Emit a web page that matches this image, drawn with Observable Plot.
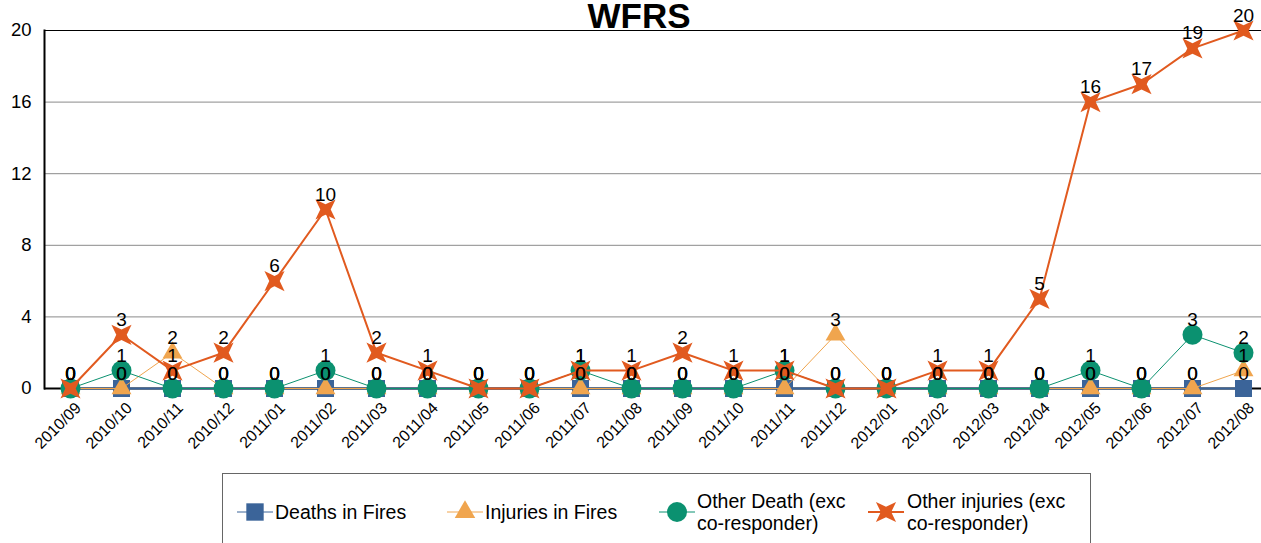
<!DOCTYPE html>
<html>
<head>
<meta charset="utf-8">
<script src="https://cdn.jsdelivr.net/npm/d3@7"></script>
<script src="https://cdn.jsdelivr.net/npm/@observablehq/plot@0.6"></script>
<style>
  body { margin: 0; background: #fff; font-family: "Liberation Sans", Arial, sans-serif; }
  #wrap { position: relative; width: 1261px; height: 543px; overflow: hidden; }
  #title { position: absolute; left: 559px; width: 160px; top: 0px; line-height: 31px; text-align: center; font-weight: bold; font-size: 35px; color: #000; z-index: 2; pointer-events: none; white-space: nowrap; }
  #chart { position: absolute; left: 0; top: 0; }
  #legend { position: absolute; left: 222px; top: 473px; width: 869px; height: 80px; border: 1px solid #666; box-sizing: border-box; background: #fff; }
  .item { position: absolute; font-size: 19.5px; color: #000; line-height: 22px; }
  .item svg { position: absolute; }
</style>
</head>
<body>
<div id="wrap">
  <div id="title">WFRS</div>
  <div id="chart"></div>
  <div id="legend"></div>
</div>
<script>
const months = ["2010/09","2010/10","2010/11","2010/12","2011/01","2011/02","2011/03","2011/04","2011/05","2011/06","2011/07","2011/08","2011/09","2011/10","2011/11","2011/12","2012/01","2012/02","2012/03","2012/04","2012/05","2012/06","2012/07","2012/08"];
const deathsInFires   = [0,0,0,0,0,0,0,0,0,0,0,0,0,0,0,0,0,0,0,0,0,0,0,0];
const injuriesInFires = [0,0,2,0,0,0,0,0,0,0,0,0,0,0,0,3,0,0,0,0,0,0,0,1];
const otherDeath      = [0,1,0,0,0,1,0,0,0,0,1,0,0,0,1,0,0,0,0,0,1,0,3,2];
const otherInjuries   = [0,3,1,2,6,10,2,1,0,0,1,1,2,1,1,0,0,1,1,5,16,17,19,20];
const seriesNames = ["Deaths in Fires","Injuries in Fires","Other Death (exc co-responder)","Other injuries (exc co-responder)"];
const yTicks = [0,4,8,12,16,20];

const colors = {
  "Deaths in Fires": "#3b6499",
  "Injuries in Fires": "#f0a54e",
  "Other Death (exc co-responder)": "#0b9170",
  "Other injuries (exc co-responder)": "#e15a1f"
};

const star4 = {
  draw(context, size) {
    const r = Math.sqrt(size / Math.PI);
    const R = r * 1.5, ri = r * 0.55;
    for (let i = 0; i < 8; i++) {
      const a = Math.PI / 4 + i * Math.PI / 4;
      const rad = i % 2 === 0 ? R : ri;
      const x = rad * Math.cos(a), y = rad * Math.sin(a);
      if (i === 0) context.moveTo(x, y); else context.lineTo(x, y);
    }
    context.closePath();
  }
};

const values = [deathsInFires, injuriesInFires, otherDeath, otherInjuries];
const rows = [];
seriesNames.forEach((s, i) => months.forEach((m, j) => rows.push({series: s, month: m, value: values[i][j]})));
const bySeries = s => rows.filter(d => d.series === s);

const lineW = {"Deaths in Fires": 2, "Injuries in Fires": 1, "Other Death (exc co-responder)": 1, "Other injuries (exc co-responder)": 2};
const symbols = {"Deaths in Fires": "square", "Injuries in Fires": "triangle", "Other Death (exc co-responder)": "circle", "Other injuries (exc co-responder)": star4};
const radii = {"Deaths in Fires": 9.6, "Injuries in Fires": 7.4, "Other Death (exc co-responder)": 10, "Other injuries (exc co-responder)": 9.5};

const marks = [
  Plot.ruleY(yTicks.filter(t => t > 0 && t < 20), {stroke: "#8a8a8a", strokeWidth: 1}),
  Plot.ruleY([20], {stroke: "#000", strokeWidth: 1}),
  Plot.axisY({ticks: yTicks, tickSize: 0, tickPadding: 13, fontSize: 18.5, label: null, fill: "#000"}),
  Plot.axisX({tickSize: 0, tickRotate: -45, fontSize: 16, label: null, dx: 8, dy: 5, fill: "#000"}),
  Plot.ruleY([0], {stroke: "#000", strokeWidth: 2}),
];
for (const s of seriesNames) {
  marks.push(Plot.line(bySeries(s), {x: "month", y: "value", stroke: colors[s], strokeWidth: lineW[s]}));
  marks.push(Plot.dot(bySeries(s), {x: "month", y: "value", symbol: () => symbols[s], r: radii[s], fill: colors[s], stroke: "none"}));
}
marks.push(Plot.frame({anchor: "left", stroke: "#000", strokeWidth: 2}));
for (const s of seriesNames) {
  marks.push(Plot.text(bySeries(s), {x: "month", y: "value", text: d => String(d.value), dy: -15, fontSize: 19, fill: "#000"}));
}

const chart = Plot.plot({
  width: 1261,
  height: 470,
  marginTop: 30,
  marginBottom: 82,
  marginLeft: 44,
  marginRight: 0,
  style: {fontFamily: "'Liberation Sans', Arial, sans-serif", background: "transparent", overflow: "visible"},
  x: {type: "point", domain: months, padding: 0, insetLeft: 24, insetRight: 17, axis: null},
  y: {domain: [0, 20], axis: null},
  symbol: {type: "identity"},
  marks
});
document.getElementById("chart").appendChild(chart);

// Legend
const legend = d3.select("#legend");
const items = [
  {s: "Deaths in Fires", sw: 13, tx: 52, lines: ["Deaths in Fires"], lw: 1, r: 9.8},
  {s: "Injuries in Fires", sw: 223, tx: 262, lines: ["Injuries in Fires"], lw: 1, r: 7.6},
  {s: "Other Death (exc co-responder)", sw: 435, tx: 474, lines: ["Other Death (exc", "co-responder)"], lw: 1, r: 10},
  {s: "Other injuries (exc co-responder)", sw: 644, tx: 684, lines: ["Other injuries (exc", "co-responder)"], lw: 2, r: 9.5}
];
for (const it of items) {
  const svg = legend.append("svg").attr("width", 38).attr("height", 30)
    .style("position", "absolute").style("left", it.sw + "px").style("top", "23px");
  svg.append("line").attr("x1", 1).attr("x2", 37).attr("y1", 15).attr("y2", 15).attr("stroke", colors[it.s]).attr("stroke-width", it.lw);
  const sym = symbols[it.s];
  const symObj = typeof sym === "string" ? ({square: d3.symbolSquare, triangle: d3.symbolTriangle, circle: d3.symbolCircle})[sym] : sym;
  const path = d3.symbol(symObj, it.r * it.r * Math.PI)();
  svg.append("path").attr("d", path).attr("transform", "translate(19,15)").attr("fill", colors[it.s]);
  const top = it.lines.length === 1 ? 27 : 16;
  legend.append("div").attr("class", "item").style("left", it.tx + "px").style("top", top + "px")
    .html(it.lines.join("<br>"));
}
</script>
</body>
</html>
